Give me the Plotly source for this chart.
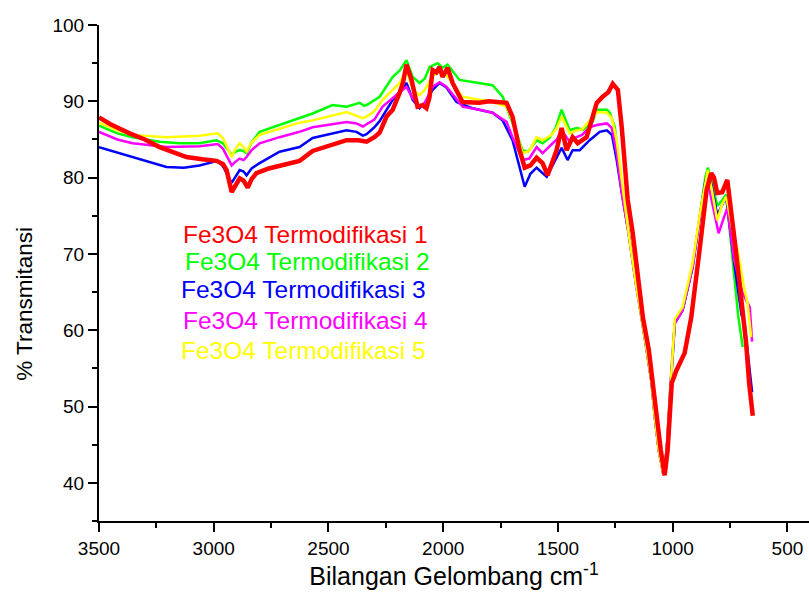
import plotly.graph_objects as go

# ---------------- data ----------------
names = ["Fe3O4 Termodifikasi 1", "Fe3O4 Termodifikasi 2", "Fe3O4 Termodifikasi 3",
         "Fe3O4 Termodifikasi 4", "Fe3O4 Termodifikasi 5"]
colors = ["#FF0000", "#00FF00", "#0000FF", "#FF00FF", "#FFFF00"]

wn1 = [3500, 3450, 3367, 3300, 3236, 3119, 3050, 2988, 2960, 2944, 2922, 2905, 2887, 2870, 2852,
       2835, 2814, 2760, 2713, 2626, 2569, 2500, 2421, 2370, 2334, 2300, 2277, 2247, 2220, 2190,
       2175, 2160, 2138, 2112, 2090, 2073, 2060, 2046, 2030, 2016, 2003, 1981, 1959, 1916, 1842,
       1800, 1768, 1724, 1698, 1667, 1645, 1620, 1593, 1567, 1545, 1525, 1506, 1484, 1462, 1436,
       1414, 1375, 1331, 1305, 1280, 1261, 1239, 1222, 1196, 1174, 1130, 1104, 1087, 1070, 1052,
       1035, 1022, 1004, 983, 948, 919, 883, 852, 832, 820, 806, 784, 762, 750, 730, 708, 680,
       667, 651]
t1 = [87.9, 87.0, 85.8, 85.0, 84.0, 82.7, 82.4, 82.2, 81.8, 81.0, 78.1, 79.0, 79.9, 79.6, 78.7,
      79.8, 80.6, 81.2, 81.5, 82.2, 83.5, 84.2, 84.9, 84.9, 84.7, 85.3, 85.9, 88.0, 88.9, 91.1,
      92.5, 94.8, 92.8, 89.3, 89.5, 89.1, 90.5, 94.1, 93.8, 94.5, 93.2, 94.4, 92.4, 89.9, 89.8,
      90.0, 89.9, 89.8, 88.0, 83.6, 81.3, 81.6, 82.6, 81.9, 80.3, 82.0, 83.6, 86.5, 83.6, 85.3,
      84.5, 85.3, 89.8, 90.6, 91.2, 92.3, 91.5, 86.6, 77.1, 72.7, 61.7, 57.4, 53.1, 48.6, 44.3,
      41.0, 44.3, 53.1, 54.8, 57.0, 61.7, 70.5, 78.4, 80.6, 80.0, 78.0, 78.1, 79.7, 77.0, 71.8,
      66.0, 58.3, 53.1, 48.8]

wn2 = [3500, 3420, 3354, 3236, 3150, 3062, 2988, 2960, 2922, 2905, 2887, 2870, 2857, 2835, 2800,
       2713, 2626, 2569, 2482, 2421, 2364, 2345, 2329, 2300, 2277, 2220, 2190, 2160, 2133, 2103,
       2080, 2059, 2024, 2003, 1981, 1929, 1842, 1785, 1741, 1698, 1654, 1630, 1593, 1567, 1537,
       1510, 1484, 1449, 1419, 1390, 1349, 1331, 1287, 1274, 1252, 1227, 1192, 1161, 1135, 1113,
       1092, 1078, 1061, 1040, 1026, 1009, 991, 957, 913, 882, 858, 847, 830, 806, 785, 767,
       730, 715, 695]
t2 = [86.8, 85.8, 85.3, 84.7, 84.5, 84.5, 84.9, 84.5, 83.0, 83.4, 83.6, 83.5, 83.2, 84.6, 86.0,
      86.9, 87.8, 88.4, 89.5, 89.3, 89.8, 89.4, 89.6, 90.2, 90.6, 93.2, 94.0, 95.4, 93.2, 92.4,
      93.0, 94.5, 95.0, 94.4, 94.8, 92.8, 92.4, 92.1, 90.6, 87.2, 83.6, 83.4, 84.9, 84.5, 85.2,
      86.5, 88.9, 86.2, 86.5, 86.3, 87.3, 88.9, 88.9, 88.5, 86.6, 79.5, 72.7, 66.2, 61.7, 57.4,
      53.1, 48.6, 44.3, 41.0, 44.3, 53.1, 60.9, 62.6, 68.3, 74.9, 80.0, 81.3, 79.5, 76.3, 77.0,
      77.8, 66.5, 62.0, 57.8]

wn3 = [3500, 3420, 3354, 3206, 3130, 3062, 2983, 2960, 2922, 2905, 2887, 2870, 2857, 2835, 2800,
       2713, 2626, 2569, 2421, 2378, 2350, 2334, 2300, 2277, 2220, 2190, 2160, 2133, 2103, 2080,
       2046, 2016, 1986, 1942, 1873, 1785, 1741, 1698, 1667, 1645, 1620, 1593, 1549, 1506, 1484,
       1458, 1436, 1405, 1362, 1318, 1287, 1265, 1244, 1222, 1192, 1161, 1135, 1113, 1092, 1078,
       1061, 1040, 1026, 1009, 991, 957, 913, 882, 858, 847, 830, 806, 785, 767, 732, 700, 687,
       654]
t3 = [84.0, 83.3, 82.7, 81.4, 81.3, 81.6, 82.2, 81.5, 79.3, 80.2, 81.0, 80.8, 80.3, 81.2, 81.9,
      83.4, 84.0, 85.2, 86.2, 86.0, 85.5, 85.7, 86.6, 87.4, 90.2, 91.0, 92.4, 90.2, 89.1, 89.8,
      91.5, 92.4, 91.8, 89.9, 89.1, 88.5, 87.5, 84.9, 81.4, 78.8, 80.5, 81.3, 80.1, 82.7, 83.9,
      82.3, 83.6, 83.6, 84.9, 86.0, 86.2, 85.6, 82.3, 78.0, 72.7, 66.2, 61.7, 57.4, 53.1, 48.6,
      44.3, 41.0, 44.3, 53.1, 60.9, 62.6, 68.3, 74.9, 79.5, 80.7, 79.0, 75.1, 76.5, 77.5, 68.8,
      62.0, 60.9, 51.9]

wn4 = [3500, 3420, 3354, 3206, 3062, 2983, 2960, 2922, 2905, 2887, 2870, 2857, 2835, 2800, 2713,
       2626, 2569, 2421, 2378, 2350, 2334, 2300, 2264, 2220, 2190, 2160, 2133, 2103, 2080, 2046,
       2016, 1986, 1916, 1842, 1785, 1724, 1698, 1654, 1625, 1593, 1567, 1523, 1505, 1484, 1449,
       1419, 1395, 1362, 1331, 1287, 1265, 1244, 1222, 1192, 1161, 1135, 1113, 1092, 1078, 1061,
       1040, 1026, 1009, 991, 957, 913, 882, 851, 830, 800, 780, 762, 732, 697, 664, 654]
t4 = [86.0, 85.0, 84.5, 84.0, 84.1, 84.4, 83.8, 81.6, 82.1, 82.5, 82.3, 82.7, 83.6, 84.5, 85.3,
      86.0, 86.6, 87.3, 87.1, 86.7, 87.0, 87.6, 89.3, 90.5, 91.2, 91.9, 90.4, 89.3, 89.8, 91.9,
      92.5, 91.9, 89.3, 88.9, 88.5, 87.3, 85.3, 82.3, 82.5, 84.0, 83.2, 84.5, 85.0, 86.2, 84.7,
      85.3, 85.6, 86.6, 86.9, 87.1, 86.5, 83.2, 78.0, 72.7, 66.2, 61.7, 57.4, 53.1, 48.6, 44.3,
      41.0, 44.3, 53.1, 60.9, 62.6, 68.3, 74.9, 80.1, 77.0, 72.7, 74.5, 76.0, 69.2, 65.0, 63.0,
      58.5]

wn5 = [3500, 3420, 3354, 3206, 3062, 2983, 2960, 2922, 2905, 2887, 2870, 2857, 2835, 2800, 2713,
       2626, 2569, 2421, 2378, 2350, 2334, 2300, 2264, 2220, 2190, 2160, 2133, 2103, 2080, 2046,
       2016, 1986, 1916, 1842, 1785, 1724, 1698, 1654, 1625, 1593, 1567, 1528, 1505, 1484, 1449,
       1419, 1395, 1362, 1327, 1287, 1265, 1244, 1218, 1192, 1161, 1135, 1113, 1092, 1078, 1061,
       1040, 1026, 1009, 991, 957, 913, 882, 847, 830, 806, 785, 767, 732, 717, 687, 674, 658]
t5 = [87.2, 86.2, 85.6, 85.3, 85.5, 85.8, 85.2, 82.7, 83.8, 84.5, 84.0, 83.4, 84.6, 85.6, 86.4,
      87.2, 87.5, 88.6, 88.1, 87.8, 88.0, 88.7, 90.2, 91.5, 92.4, 94.1, 91.5, 90.8, 91.5, 93.4,
      93.8, 93.4, 90.6, 90.2, 89.9, 89.3, 87.5, 83.2, 83.5, 85.3, 84.9, 85.6, 86.5, 88.0, 85.8,
      86.2, 86.3, 87.5, 88.6, 88.5, 87.8, 84.9, 78.8, 72.7, 66.2, 61.7, 57.4, 53.1, 48.6, 44.3,
      41.0, 44.3, 53.1, 61.5, 63.0, 68.8, 75.2, 81.0, 78.5, 74.4, 76.5, 77.5, 72.0, 70.5, 65.3,
      63.6, 59.1]

series_wn = [wn1, wn2, wn3, wn4, wn5]
series_t = [t1, t2, t3, t4, t5]
line_widths = [4.5, 2.5, 2.5, 2.5, 2.5]
draw_order = [1, 2, 3, 4, 0]

x_range = [3500, 406]
y_range = [35, 100]
x_ticks = [3500, 3000, 2500, 2000, 1500, 1000, 500]
y_ticks = [40, 50, 60, 70, 80, 90, 100]
x_title = "Bilangan Gelombang cm<sup>-1</sup>"
y_title = "% Transmitansi"

# ---------------- figure ----------------
fig = go.Figure()
for i in draw_order:
    fig.add_trace(go.Scatter(x=series_wn[i], y=series_t[i], mode="lines", name=names[i],
                             line=dict(color=colors[i], width=line_widths[i]),
                             showlegend=False))

font_family = "Liberation Sans, Arial, sans-serif"

legend_y = [0.577, 0.524, 0.466, 0.405, 0.343]
legend_x = [0.115, 0.119, 0.113, 0.115, 0.112]
for i in range(5):
    fig.add_annotation(x=legend_x[i], y=legend_y[i], xref="paper", yref="paper",
                       text=names[i], showarrow=False, xanchor="left", yanchor="middle",
                       font=dict(family=font_family, size=24.5, color=colors[i]))

# y-axis title (placed like the original: slightly below the axis centre)
fig.add_annotation(x=-0.106, y=0.4375, xref="paper", yref="paper", text=y_title,
                   showarrow=False, textangle=-90, xanchor="center", yanchor="middle",
                   font=dict(family=font_family, size=22.5, color="black"))

fig.update_layout(
    width=809, height=596,
    margin=dict(l=99, r=0, t=25, b=75),
    paper_bgcolor="white", plot_bgcolor="white",
    font=dict(family=font_family, color="black"),
)
fig.update_xaxes(range=x_range, tickvals=x_ticks, showline=True, linecolor="black", linewidth=2,
                 ticks="outside", ticklen=9, tickwidth=2, tickcolor="black",
                 tickfont=dict(size=19, family=font_family),
                 minor=dict(dtick=250, ticks="outside", ticklen=5, tickwidth=2, tickcolor="black"),
                 showgrid=False, zeroline=False,
                 title=dict(text=x_title, font=dict(size=25, family=font_family), standoff=9))
fig.update_yaxes(range=y_range, tickvals=y_ticks, showline=True, linecolor="black", linewidth=2,
                 ticks="outside", ticklen=9, tickwidth=2, tickcolor="black",
                 tickfont=dict(size=19, family=font_family),
                 minor=dict(dtick=5, tick0=0, ticks="outside", ticklen=5, tickwidth=2, tickcolor="black"),
                 showgrid=False, zeroline=False)

fig.write_html("out.html")
